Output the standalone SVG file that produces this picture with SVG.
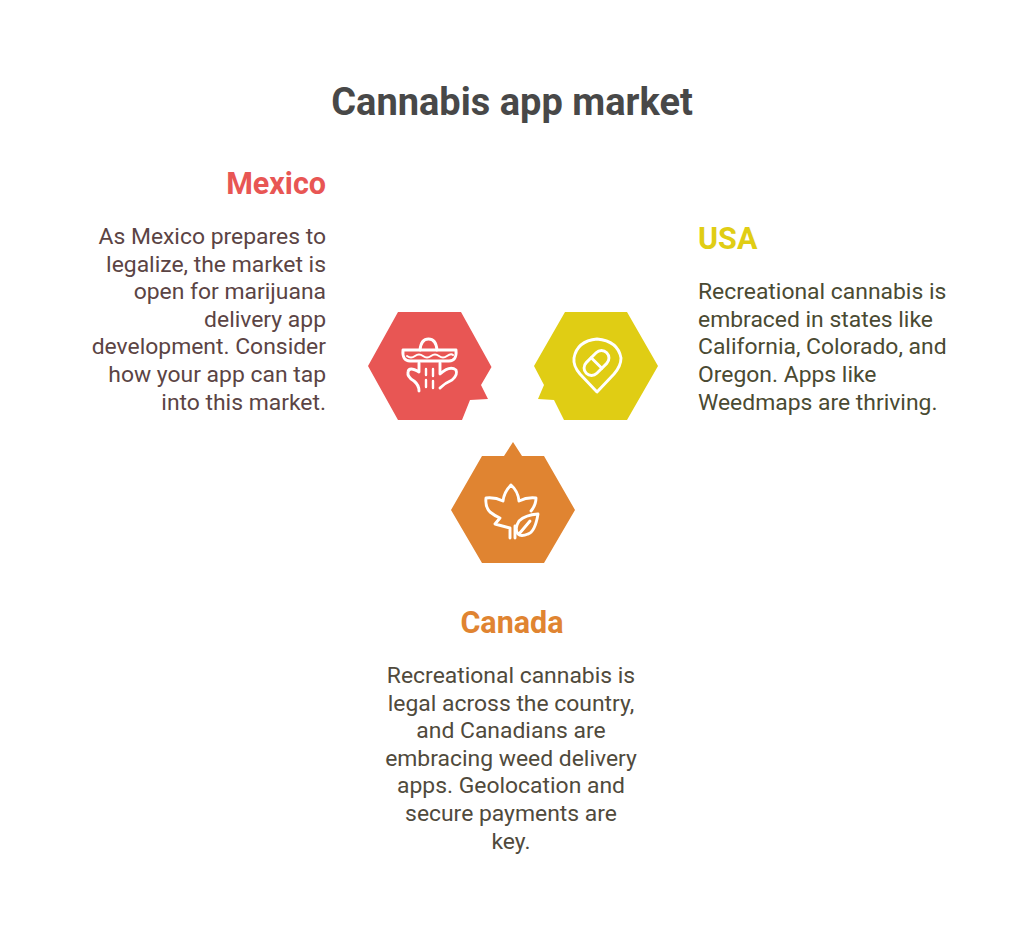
<svg xmlns="http://www.w3.org/2000/svg" width="1024" height="933" viewBox="0 0 1024 933">
<style>
text{font-family:Roboto,"Liberation Sans",sans-serif}
.title{font-size:38px;font-weight:700;fill:#484848;text-anchor:middle}
.h{font-size:30.5px;font-weight:700}
.b{font-size:22.9px}
.ic{fill:none;stroke:#fff;stroke-width:2.9;stroke-linecap:round;stroke-linejoin:round}
</style>
<rect width="1024" height="933" fill="#fff"/>
<text class="title" x="512" y="114.500">Cannabis app market</text>
<g id="mexico">
<path fill="#e85654" d="M368 366L398 312H461L491.500 367L481 385L488 399L470 400L462 420H398Z"/>
<g class="ic">
<path d="M403 350H456Q457 361 449 361H410Q402 361 403 350Z"/>
<path d="M420 350Q421 339 428.500 339Q436 339 437 350"/>
<path d="M407 356Q411 359 415 356T423 356T431 356T439 356T447 356T453 355" stroke-width="2"/>
<path d="M419 363V372Q409 366 408 372Q407 377 414 381Q419 385 419 391"/>
<path d="M440 363V374Q450 365 456 370Q458 375 452 380Q445 383 440 388"/>
<path d="M426 369V375M426 380V387M433 369V376M433 381V388" stroke-width="2.400"/>
</g>
</g>
<g id="usa">
<path fill="#e0cd14" d="M534 366L565 312H627L658 366L627 420H564L554 400L538 399L544 385Z"/>
<g class="ic">
<path d="M597 392L580 374Q573 366 574 358Q577 341 597 339Q618 341 621 358Q621 366 614 374Z"/>
<g transform="rotate(-45 596.500 363)"><rect x="582" y="355.500" width="29" height="15" rx="7.500"/><path d="M596.500 355.500V370.500"/></g>
</g>
</g>
<g id="canada">
<path fill="#e08431" d="M513 442L522 456H544L575 510L544 563H482L451 510L482 456H504Z"/>
<g class="ic">
<path d="M511 485Q518 491 519 501Q527 497 536 498Q536 505 531 511M511 485Q504 492 503 501Q495 497 486 498Q485 507 490 512Q495 516 500 518L495 524L510 528V538"/>
<path d="M538 514Q535 532 528 534Q521 537 518 534Q514 529 519 521Q525 515 538 514ZM519 534L530 521"/>
<path d="M515 526V538"/>
</g>
</g>
<g id="mexico-text" text-anchor="end" fill="#5b4444">
<text class="h" x="326" y="193.500" fill="#e85654">Mexico</text>
<g class="b">
<text x="326" y="244">As Mexico prepares to</text>
<text x="326" y="272">legalize, the market is</text>
<text x="326" y="299">open for marijuana</text>
<text x="326" y="327">delivery app</text>
<text x="326" y="354">development. Consider</text>
<text x="326" y="382">how your app can tap</text>
<text x="326" y="410">into this market.</text>
</g>
</g>
<g id="usa-text" fill="#4a4a32">
<text class="h" x="698" y="248.500" fill="#e0cd14">USA</text>
<g class="b">
<text x="698" y="299">Recreational cannabis is</text>
<text x="698" y="327">embraced in states like</text>
<text x="698" y="354">California, Colorado, and</text>
<text x="698" y="382">Oregon. Apps like</text>
<text x="698" y="410">Weedmaps are thriving.</text>
</g>
</g>
<g id="canada-text" text-anchor="middle" fill="#504a3c">
<text class="h" x="512" y="632.500" fill="#e08431">Canada</text>
<g class="b">
<text x="511" y="683">Recreational cannabis is</text>
<text x="511" y="711">legal across the country,</text>
<text x="511" y="738">and Canadians are</text>
<text x="511" y="766">embracing weed delivery</text>
<text x="511" y="793">apps. Geolocation and</text>
<text x="511" y="821">secure payments are</text>
<text x="511" y="849">key.</text>
</g>
</g>
</svg>
